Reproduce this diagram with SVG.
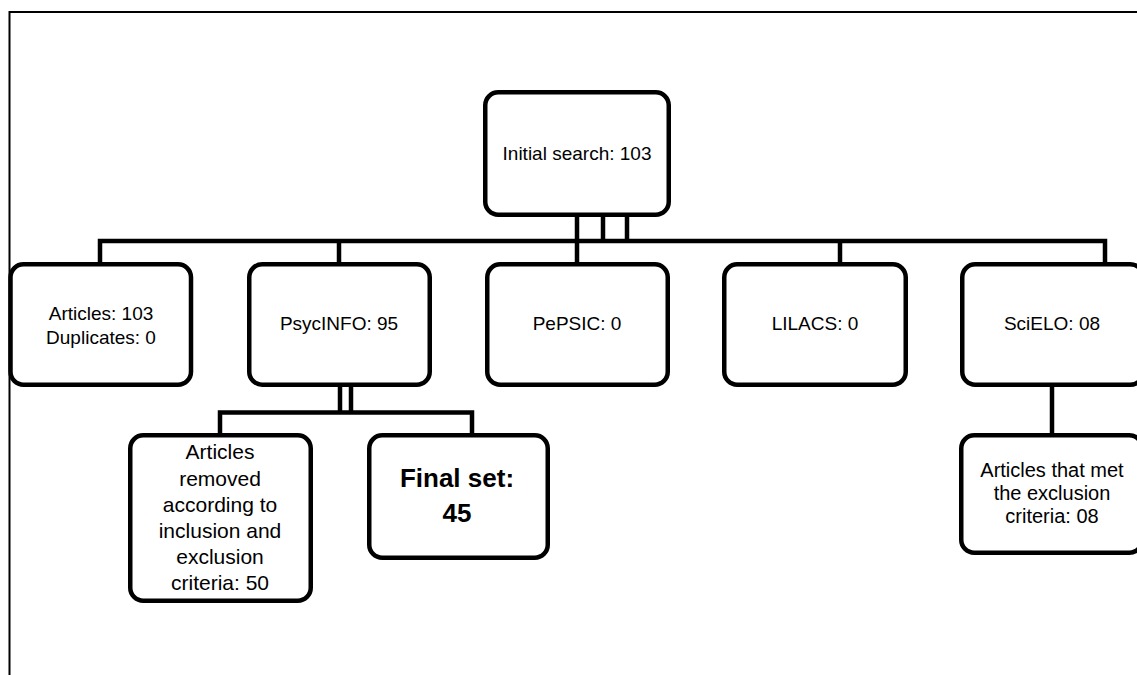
<svg xmlns="http://www.w3.org/2000/svg" width="1137" height="675" viewBox="0 0 1137 675">
  <style>
    .box { fill: #ffffff; stroke: #000000; stroke-width: 4.5; }
    .line { fill: none; stroke: #000000; stroke-width: 4.5; stroke-linejoin: miter; }
    .t { font-family: "Liberation Sans", Arial, sans-serif; font-size: 19px; fill: #000000; text-anchor: middle; }
    .b { font-family: "Liberation Sans", Arial, sans-serif; font-size: 26px; font-weight: bold; fill: #000000; text-anchor: middle; }
  </style>
  <rect x="0" y="0" width="1137" height="675" fill="#ffffff"/>
  <path d="M9.5,675 V12 H1137" fill="none" stroke="#000000" stroke-width="2"/>

  <g id="connectors">
    <path class="line" d="M577,217 V262"/>
    <path class="line" d="M603,217 V241"/>
    <path class="line" d="M627,217 V241"/>
    <path class="line" d="M100,262 V241 H1105 V262"/>
    <path class="line" d="M339,241 V262"/>
    <path class="line" d="M840,241 V262"/>
    <path class="line" d="M340,386 V413"/>
    <path class="line" d="M351,386 V413"/>
    <path class="line" d="M220,433 V412.5 H472 V433"/>
    <path class="line" d="M1052,387 V433"/>
  </g>

  <g id="initial-search">
    <rect class="box" x="485.25" y="92.25" width="183.5" height="122.5" rx="13"/>
    <text class="t" x="577" y="160">Initial search: 103</text>
  </g>

  <g id="articles">
    <rect class="box" x="10.5" y="264.25" width="180.5" height="120.5" rx="13"/>
    <text class="t" x="101" y="320">Articles: 103</text>
    <text class="t" x="101" y="344">Duplicates: 0</text>
  </g>

  <g id="psycinfo">
    <rect class="box" x="249.25" y="264.25" width="180.5" height="120.5" rx="13"/>
    <text class="t" x="339" y="330">PsycINFO: 95</text>
  </g>

  <g id="pepsic">
    <rect class="box" x="487.25" y="264.25" width="180.5" height="120.5" rx="13"/>
    <text class="t" x="577" y="330">PePSIC: 0</text>
  </g>

  <g id="lilacs">
    <rect class="box" x="724.25" y="264.25" width="181.5" height="120.5" rx="13"/>
    <text class="t" x="815" y="330">LILACS: 0</text>
  </g>

  <g id="scielo">
    <rect class="box" x="962.25" y="264.25" width="181" height="120.5" rx="13"/>
    <text class="t" x="1052" y="330">SciELO: 08</text>
  </g>

  <g id="articles-removed">
    <rect class="box" x="130.25" y="435.25" width="180.5" height="165.5" rx="13"/>
    <text class="t" x="220" y="459" style="font-size:21px">Articles</text>
    <text class="t" x="220" y="486" style="font-size:21px">removed</text>
    <text class="t" x="220" y="512" style="font-size:21px">according to</text>
    <text class="t" x="220" y="538" style="font-size:21px">inclusion and</text>
    <text class="t" x="220" y="564" style="font-size:21px">exclusion</text>
    <text class="t" x="220" y="590" style="font-size:21px">criteria: 50</text>
  </g>

  <g id="final-set">
    <rect class="box" x="369.25" y="435.25" width="178.5" height="122.5" rx="13"/>
    <text class="b" x="457" y="487">Final set:</text>
    <text class="b" x="457" y="522">45</text>
  </g>

  <g id="scielo-exclusion">
    <rect class="box" x="961.25" y="435.25" width="181" height="117.5" rx="13"/>
    <text class="t" x="1052" y="477" style="font-size:20px">Articles that met</text>
    <text class="t" x="1052" y="500" style="font-size:20px">the exclusion</text>
    <text class="t" x="1052" y="523" style="font-size:20px">criteria: 08</text>
  </g>
</svg>
